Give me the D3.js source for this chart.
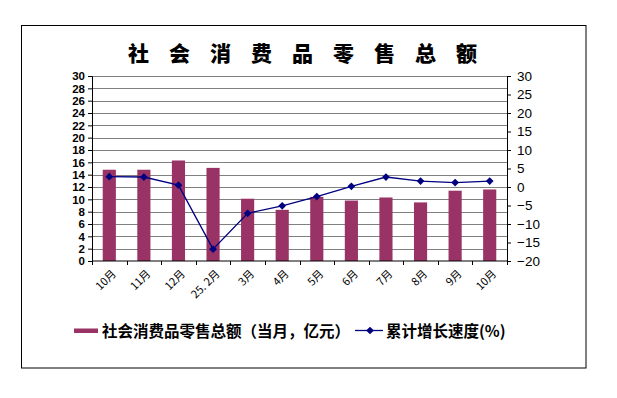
<!DOCTYPE html>
<html>
<head>
<meta charset="utf-8">
<script src="https://cdn.jsdelivr.net/npm/d3@7"></script>
<style>
  body { margin: 0; background: #fff; }
  svg { display: block; }
</style>
</head>
<body>
<svg width="617" height="398"></svg>
<script>
var months = ["10月", "11月", "12月", "25. 2月", "3月", "4月", "5月", "6月", "7月", "8月", "9月", "10月"];
var retailSales = [14.8, 14.8, 16.3, 15.1, 10.1, 8.3, 10.4, 9.8, 10.3, 9.5, 11.4, 11.6];
var growthRate = [2.8, 2.7, 0.5, -16.8, -7.1, -5.1, -2.6, 0.2, 2.7, 1.6, 1.2, 1.6];
var leftTicks = d3.range(0, 31, 2);
var rightTicks = d3.range(-20, 31, 5);

var cjk = "'Noto Sans CJK SC', 'Liberation Sans', sans-serif";
var latin = "'Liberation Sans', Arial, sans-serif";

var svg = d3.select("svg"),
    margin = {top: 76, right: 110, bottom: 137, left: 92},
    width = +svg.attr("width") - margin.left - margin.right,
    height = +svg.attr("height") - margin.top - margin.bottom;

svg.append("rect")
    .attr("width", 617).attr("height", 398).attr("fill", "#fff");

// outer frame
svg.append("rect")
    .attr("x", 21.5).attr("y", 25.5)
    .attr("width", 564.5).attr("height", 342.5)
    .attr("fill", "none").attr("stroke", "#000").attr("stroke-width", 1);

svg.append("text")
    .attr("x", 128).attr("y", 61)
    .attr("font-family", cjk).attr("font-weight", "900")
    .attr("font-size", 21).attr("letter-spacing", 20)
    .attr("fill", "#000")
    .text("社会消费品零售总额");

var g = svg.append("g").attr("transform", "translate(" + margin.left + "," + margin.top + ")");

var x = d3.scaleBand().domain(d3.range(months.length)).range([0, width]).paddingInner(0).paddingOuter(0);
var yL = d3.scaleLinear().domain([0, 30]).range([height, 0]);
var yR = d3.scaleLinear().domain([-20, 30]).range([height, 0]);

// gridlines
g.append("g").selectAll("line")
    .data(leftTicks.slice(1))
    .enter().append("line")
    .attr("x1", 0).attr("x2", width)
    .attr("y1", function(d) { return Math.round(yL(d)) + 0.5; })
    .attr("y2", function(d) { return Math.round(yL(d)) + 0.5; })
    .attr("stroke", "#808080").attr("stroke-width", 1);

// bars
var bw = x.bandwidth() * 0.38;
g.selectAll(".bar")
    .data(retailSales)
    .enter().append("rect")
    .attr("class", "bar")
    .attr("x", function(d, i) { return x(i) + (x.bandwidth() - bw) / 2; })
    .attr("y", function(d) { return yL(d); })
    .attr("width", bw)
    .attr("height", function(d) { return height - yL(d); })
    .attr("fill", "#993366");

// left axis
var axL = g.append("g")
    .call(d3.axisLeft(yL).tickValues(leftTicks).tickSize(4).tickPadding(3));
axL.select(".domain").attr("stroke", "#000");
axL.selectAll("text")
    .attr("font-family", latin).attr("font-weight", "bold")
    .attr("font-size", 11.5).attr("fill", "#000");

// right axis
var axR = g.append("g")
    .attr("transform", "translate(" + width + ",0)")
    .call(d3.axisRight(yR).tickValues(rightTicks).tickSize(4).tickPadding(6)
        .tickFormat(function(d) { return d < 0 ? "\u2212" + Math.abs(d) : d; }));
axR.selectAll("text")
    .attr("font-family", latin)
    .attr("font-size", 13.5).attr("fill", "#000");

// bottom axis
var xPos = d3.scaleLinear().domain([0, months.length]).range([0, width]);
var axB = g.append("g")
    .attr("transform", "translate(0," + height + ")");
axB.append("line")
    .attr("x1", 0).attr("x2", width).attr("stroke", "#000");
axB.selectAll(".tk")
    .data(d3.range(months.length + 1))
    .enter().append("line")
    .attr("x1", function(d) { return Math.round(xPos(d)) + 0.5; })
    .attr("x2", function(d) { return Math.round(xPos(d)) + 0.5; })
    .attr("y1", 0).attr("y2", 4)
    .attr("stroke", "#000");
axB.selectAll(".lbl")
    .data(months)
    .enter().append("text")
    .attr("transform", function(d, i) {
        return "translate(" + (x(i) + x.bandwidth() / 2 + 2) + ",8) rotate(-45)";
    })
    .attr("text-anchor", "end")
    .attr("dy", "0.7em")
    .attr("font-family", cjk)
    .attr("font-size", 11)
    .attr("fill", "#000")
    .text(function(d) { return d; });

// growth line
var line = d3.line()
    .x(function(d, i) { return x(i) + x.bandwidth() / 2; })
    .y(function(d) { return yR(d); });
g.append("path")
    .datum(growthRate)
    .attr("d", line)
    .attr("fill", "none")
    .attr("stroke", "#000080")
    .attr("stroke-width", 1.3);

var diamond = d3.symbol().type(d3.symbolSquare).size(30);
g.selectAll(".pt")
    .data(growthRate)
    .enter().append("path")
    .attr("class", "pt")
    .attr("d", diamond)
    .attr("transform", function(d, i) {
        return "translate(" + (x(i) + x.bandwidth() / 2) + "," + yR(d) + ") rotate(45)";
    })
    .attr("fill", "#000080");

// legend
var lg = svg.append("g");
lg.append("rect")
    .attr("x", 74).attr("y", 328.5)
    .attr("width", 24).attr("height", 4.5)
    .attr("fill", "#993366");
lg.append("text")
    .attr("x", 102).attr("y", 337)
    .attr("font-family", cjk).attr("font-weight", "bold")
    .attr("font-size", 15.5).attr("fill", "#000")
    .text("社会消费品零售总额（当月，亿元）");
lg.append("line")
    .attr("x1", 355).attr("x2", 383)
    .attr("y1", 330.5).attr("y2", 330.5)
    .attr("stroke", "#000080").attr("stroke-width", 1.3);
lg.append("path")
    .attr("d", diamond)
    .attr("transform", "translate(370,330.5) rotate(45)")
    .attr("fill", "#000080");
lg.append("text")
    .attr("x", 386).attr("y", 337)
    .attr("font-family", cjk).attr("font-weight", "bold")
    .attr("font-size", 15.5).attr("fill", "#000")
    .text("累计增长速度(%)");
</script>
</body>
</html>
